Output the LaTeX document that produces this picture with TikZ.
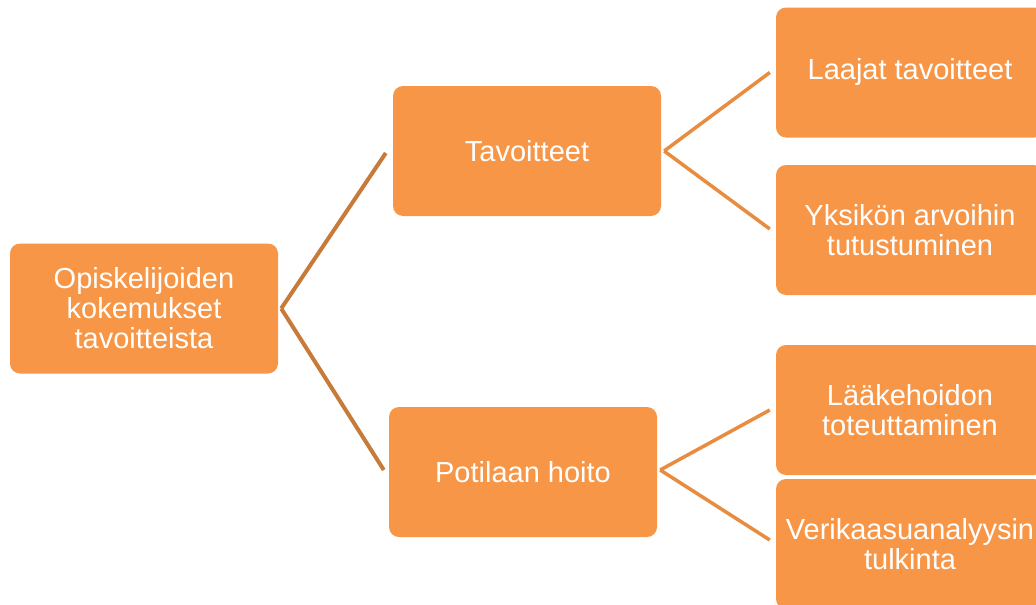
\documentclass[tikz,border=0pt]{standalone}
\usepackage{fontspec}
\setmainfont{Liberation Sans}
\usetikzlibrary{calc}
\definecolor{boxorange}{RGB}{247,150,70}
\definecolor{linedark}{RGB}{198,123,58}
\definecolor{linelight}{RGB}{232,140,64}

\begin{document}
\begin{tikzpicture}[x=1pt,y=-1pt,
  box/.style={rectangle,rounded corners=10pt,fill=boxorange,draw=none,text=white,
    minimum width=268pt,minimum height=130pt,inner sep=0pt,align=center,
    font=\fontsize{29}{30}\selectfont},
  conn/.style={line width=4pt},
  connlight/.style={line width=3.5pt,linelight}]
\useasboundingbox (0,0) rectangle (1036,605);
\clip (0,0) rectangle (1036,605);

\node[box] (root) at (144,308.5) {Opiskelijoiden\\kokemukset\\tavoitteista};
\node[box] (tav) at (527,151) {Tavoitteet};
\node[box] (hoito) at (523,472) {Potilaan hoito};

\node[box] (laajat) at (910,72.5) {Laajat tavoitteet};
\node[box] (yksikko) at (910,230) {Yksikön arvoihin\\tutustuminen};
\node[box] (laake) at (910,410) {Lääkehoidon\\toteuttaminen};
\node[box] (veri) at (910,544) {Verikaasuanalyysin\\tulkinta};

\draw[conn,linedark] ($(root.east)+(3,0)$) -- ($(tav.west)+(-7,2)$);
\draw[conn,linedark] ($(root.east)+(3,0)$) -- ($(hoito.west)+(-5,-2)$);

\draw[connlight] ($(tav.east)+(3,0)$) -- ($(laajat.west)+(-6,0)$);
\draw[connlight] ($(tav.east)+(3,0)$) -- ($(yksikko.west)+(-6,-1)$);
\draw[connlight] ($(hoito.east)+(3,-2)$) -- ($(laake.west)+(-6,0)$);
\draw[connlight] ($(hoito.east)+(3,-2)$) -- ($(veri.west)+(-6,-4)$);

\end{tikzpicture}
\end{document}
